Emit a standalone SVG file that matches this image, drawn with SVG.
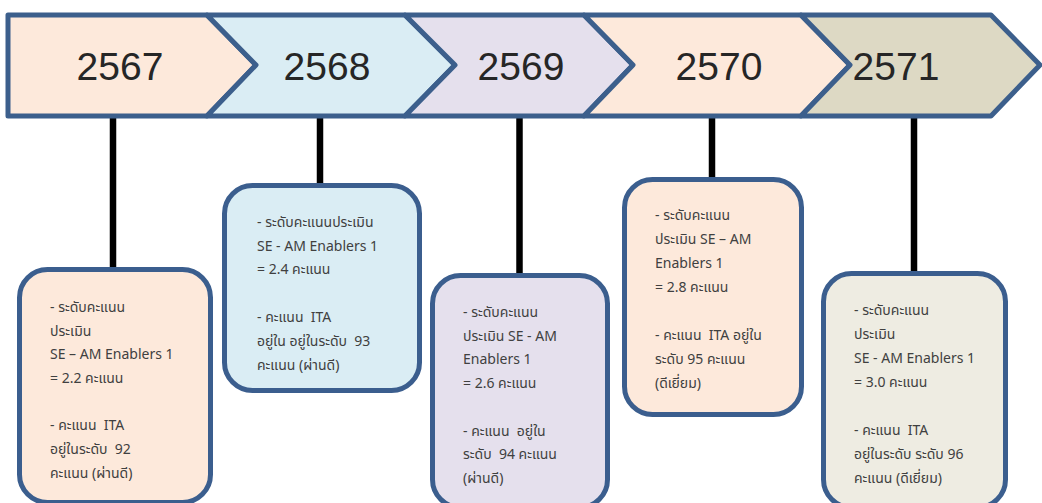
<svg xmlns="http://www.w3.org/2000/svg" width="1042" height="503" viewBox="0 0 1042 503">
<style>
.chev{stroke:#3c5f8c;stroke-width:5;stroke-linejoin:round}
.year{font-family:"Liberation Sans","Noto Sans",sans-serif;font-size:39px;fill:#262626;text-anchor:middle}
.box{stroke:#3b5e8e;stroke-width:5}
.t{font-family:"Noto Sans","Noto Sans Thai","Liberation Sans",sans-serif;font-size:14px;fill:#404040;white-space:pre}
.conn{stroke:#000;stroke-width:6.5}
</style>
<rect width="1042" height="503" fill="#fff"/>
<g id="connectors">
<line class="conn" x1="113" y1="116" x2="113" y2="270"/>
<line class="conn" x1="320" y1="116" x2="320" y2="186"/>
<line class="conn" x1="519.5" y1="116" x2="519.5" y2="276"/>
<line class="conn" x1="712" y1="116" x2="712" y2="180"/>
<line class="conn" x1="914" y1="116" x2="914" y2="274"/>
</g>
<g id="y2567">
<polygon class="chev" fill="#fde9db" points="8,15 207,15 256,65 207,116 8,116"/>
<text class="year" x="120" y="80">2567</text>
</g>
<g id="y2568">
<polygon class="chev" fill="#daedf4" points="207,15 405,15 455,65 405,116 207,116 256,65"/>
<text class="year" x="327" y="80">2568</text>
</g>
<g id="y2569">
<polygon class="chev" fill="#e5e0ed" points="405,15 584,15 633,65 584,116 405,116 455,65"/>
<text class="year" x="521" y="80">2569</text>
</g>
<g id="y2570">
<polygon class="chev" fill="#fde9db" points="584,15 801,15 850,65 801,116 584,116 633,65"/>
<text class="year" x="719" y="80">2570</text>
</g>
<g id="y2571">
<polygon class="chev" fill="#ddd9c4" points="801,15 991,15 1040,65 991,116 801,116 850,65"/>
<text class="year" x="896" y="80">2571</text>
</g>
<g id="box2567">
<rect class="box" fill="#fde9db" x="19.5" y="269.5" width="191" height="233" rx="28"/>
<text class="t" xml:space="preserve"><tspan x="50" y="312">- ระดับคะแนน</tspan><tspan x="50" y="336">ประเมิน</tspan><tspan x="50" y="359">SE – AM Enablers 1</tspan><tspan x="50" y="383">= 2.2 คะแนน</tspan><tspan x="50" y="430">- คะแนน  ITA</tspan><tspan x="50" y="454">อยู่ในระดับ  92</tspan><tspan x="50" y="478">คะแนน (ผ่านดี)</tspan></text>
</g>
<g id="box2568">
<rect class="box" fill="#daedf4" x="224.5" y="185.5" width="195" height="205" rx="28"/>
<text class="t" xml:space="preserve"><tspan x="257" y="227">- ระดับคะแนนประเมิน</tspan><tspan x="257" y="251">SE - AM Enablers 1</tspan><tspan x="257" y="274">= 2.4 คะแนน</tspan><tspan x="257" y="322">- คะแนน  ITA</tspan><tspan x="257" y="346">อยู่ใน อยู่ในระดับ  93</tspan><tspan x="257" y="370">คะแนน (ผ่านดี)</tspan></text>
</g>
<g id="box2569">
<rect class="box" fill="#e5e0ed" x="432.5" y="275.5" width="175" height="232" rx="28"/>
<text class="t" xml:space="preserve"><tspan x="463" y="317">- ระดับคะแนน</tspan><tspan x="463" y="341">ประเมิน SE - AM</tspan><tspan x="463" y="364">Enablers 1</tspan><tspan x="463" y="388">= 2.6 คะแนน</tspan><tspan x="463" y="436">- คะแนน  อยู่ใน</tspan><tspan x="463" y="459">ระดับ  94 คะแนน</tspan><tspan x="463" y="483">(ผ่านดี)</tspan></text>
</g>
<g id="box2570">
<rect class="box" fill="#fde9db" x="624.5" y="179.5" width="177" height="235" rx="28"/>
<text class="t" xml:space="preserve"><tspan x="655" y="220">- ระดับคะแนน</tspan><tspan x="655" y="244">ประเมิน SE – AM</tspan><tspan x="655" y="268">Enablers 1</tspan><tspan x="655" y="292">= 2.8 คะแนน</tspan><tspan x="655" y="340">- คะแนน  ITA อยู่ใน</tspan><tspan x="655" y="364">ระดับ 95 คะแนน</tspan><tspan x="655" y="388">(ดีเยี่ยม)</tspan></text>
</g>
<g id="box2571">
<rect class="box" fill="#eeece2" x="823.5" y="273.5" width="182" height="234" rx="28"/>
<text class="t" xml:space="preserve"><tspan x="854" y="315">- ระดับคะแนน</tspan><tspan x="854" y="339">ประเมิน</tspan><tspan x="854" y="363">SE - AM Enablers 1</tspan><tspan x="854" y="387">= 3.0 คะแนน</tspan><tspan x="854" y="435">- คะแนน  ITA</tspan><tspan x="854" y="459">อยู่ในระดับ ระดับ 96</tspan><tspan x="854" y="483">คะแนน (ดีเยี่ยม)</tspan></text>
</g>
</svg>
